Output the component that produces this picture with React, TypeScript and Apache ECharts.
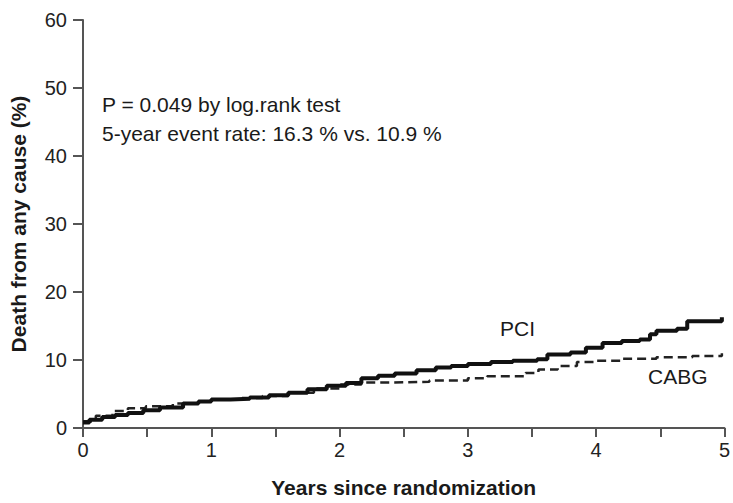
import React, { useEffect, useRef } from "react";
import * as echarts from "echarts";

const pciData: [number, number][] = [
  [0, 0.8], [0.05, 1.2], [0.15, 1.6], [0.25, 1.9], [0.35, 2.2], [0.47, 2.6], [0.6, 3.0],
  [0.78, 3.6], [0.9, 3.9], [1.0, 4.2], [1.15, 4.3], [1.3, 4.5], [1.45, 4.8], [1.6, 5.2],
  [1.75, 5.7], [1.9, 6.2], [2.05, 6.6], [2.17, 7.3], [2.3, 7.7], [2.43, 8.0], [2.6, 8.5],
  [2.75, 8.9], [2.87, 9.1], [3.0, 9.4], [3.18, 9.7], [3.35, 9.9], [3.54, 10.1], [3.62, 10.8],
  [3.8, 11.1], [3.92, 11.8], [4.05, 12.5], [4.2, 12.8], [4.34, 13.0], [4.42, 13.8],
  [4.47, 14.3], [4.63, 14.6], [4.71, 15.7], [4.91, 15.7], [4.98, 16.3],
];

const cabgData: [number, number][] = [
  [0, 1.0], [0.1, 1.8], [0.23, 2.5], [0.35, 2.9], [0.49, 3.2], [0.7, 3.6], [0.9, 3.9],
  [1.0, 4.2], [1.2, 4.4], [1.4, 4.7], [1.6, 5.2], [1.8, 5.8], [2.0, 6.4], [2.17, 6.7],
  [2.4, 6.8], [2.7, 7.0], [3.0, 7.3], [3.15, 7.6], [3.31, 7.6], [3.45, 8.1], [3.55, 8.6],
  [3.7, 9.1], [3.85, 9.7], [4.0, 9.9], [4.21, 10.2], [4.47, 10.4], [4.75, 10.6], [4.98, 11.0],
];

const annotationLines = [
  "P = 0.049 by log.rank test",
  "5-year event rate: 16.3 % vs. 10.9 %",
];
const seriesNames = ["PCI", "CABG"];
const xTitle = "Years since randomization";
const yTitle = "Death from any cause (%)";

const FONT = "'Liberation Sans', Arial, sans-serif";

export default function App() {
  const ref = useRef<HTMLDivElement>(null);
  useEffect(() => {
    if (!ref.current) return;
    const chart = echarts.init(ref.current, undefined, { renderer: "svg" });
    chart.setOption({
      animation: false,
      backgroundColor: "#fff",
      grid: { left: 80, right: 8, top: 20, bottom: 74, containLabel: false },
      xAxis: {
        type: "value",
        min: 0,
        max: 5,
        interval: 0.5,
        name: xTitle,
        nameLocation: "middle",
        nameGap: 49,
        nameTextStyle: { fontFamily: FONT, fontSize: 21, fontWeight: "bold", color: "#1a1a1a" },
        axisLine: { show: true, lineStyle: { color: "#555", width: 2 } },
        axisTick: { show: true, inside: false, length: 9, lineStyle: { color: "#555", width: 2 } },
        axisLabel: {
          fontFamily: FONT,
          fontSize: 20,
          color: "#222",
          margin: 12,
          formatter: (v: number) => (Number.isInteger(v) ? String(v) : ""),
        },
        splitLine: { show: false },
      },
      yAxis: {
        type: "value",
        min: 0,
        max: 60,
        interval: 10,
        name: yTitle,
        nameLocation: "middle",
        nameGap: 54,
        nameTextStyle: { fontFamily: FONT, fontSize: 21, fontWeight: "bold", color: "#1a1a1a" },
        axisLine: { show: true, lineStyle: { color: "#555", width: 2 } },
        axisTick: { show: true, inside: false, length: 10, lineStyle: { color: "#555", width: 2 } },
        axisLabel: { fontFamily: FONT, fontSize: 20, color: "#222", margin: 16 },
        splitLine: { show: false },
      },
      graphic: [
        {
          type: "text",
          left: 102,
          top: 94,
          style: { text: annotationLines[0], font: `21px ${FONT}`, fill: "#1a1a1a" },
        },
        {
          type: "text",
          left: 102,
          top: 123,
          style: { text: annotationLines[1], font: `21px ${FONT}`, fill: "#1a1a1a" },
        },
        {
          type: "text",
          left: 500,
          top: 318,
          style: { text: seriesNames[0], font: `21px ${FONT}`, fill: "#1a1a1a" },
        },
        {
          type: "text",
          left: 648,
          top: 366,
          style: { text: seriesNames[1], font: `21px ${FONT}`, fill: "#1a1a1a" },
        },
      ],
      series: [
        {
          name: seriesNames[1],
          type: "line",
          step: "end",
          data: cabgData,
          showSymbol: false,
          lineStyle: { color: "#222", width: 2.5, type: [9, 5] },
          z: 2,
        },
        {
          name: seriesNames[0],
          type: "line",
          step: "end",
          data: pciData,
          showSymbol: false,
          lineStyle: { color: "#111", width: 4 },
          z: 3,
        },
      ],
    });
    return () => chart.dispose();
  }, []);
  return <div ref={ref} style={{ width: 733, height: 503, position: "absolute", left: 0, top: 0 }} />;
}
